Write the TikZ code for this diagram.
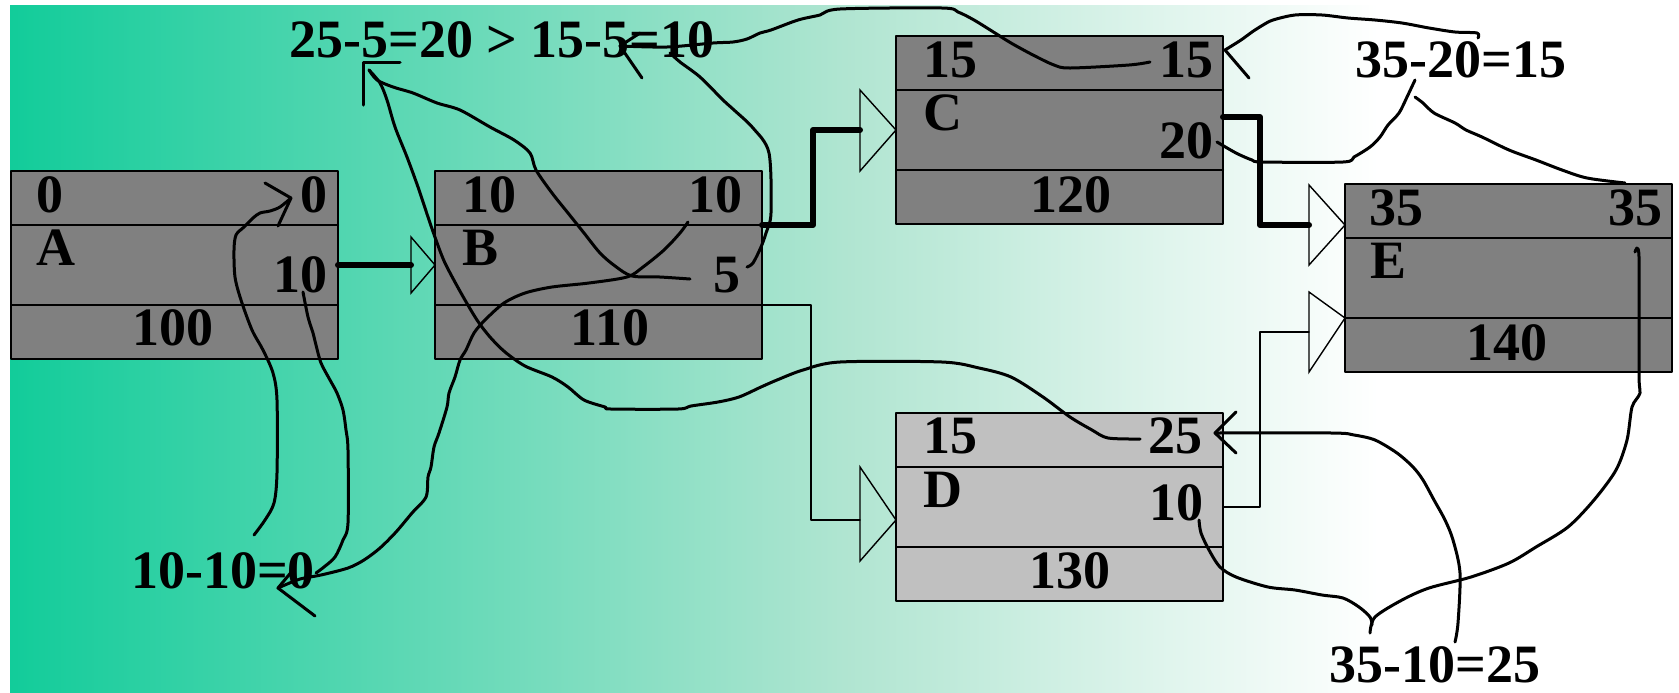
\documentclass[tikz,border=0pt]{standalone}
\usepackage{fontspec}
\setmainfont{Liberation Serif}
\usetikzlibrary{arrows.meta}
\definecolor{bgteal}{RGB}{18,204,154}
\definecolor{bgmint}{RGB}{176,229,209}
\definecolor{boxdark}{RGB}{128,128,128}
\definecolor{boxlight}{RGB}{192,192,192}
\pgfdeclarehorizontalshading{bgfade}{100bp}{color(0bp)=(bgteal); color(25bp)=(bgteal); color(50bp)=(bgmint); color(66bp)=(white); color(100bp)=(white)}

\begin{document}
\begin{tikzpicture}[x=0.5pt, y=-0.5pt, line join=round, line cap=round,
  box/.style={draw=black, line width=1pt, fill=boxdark, minimum width=163.5pt, minimum height=94pt, inner sep=0pt, outer sep=0pt, anchor=north west},
  num/.style={font=\fontsize{27}{30}\selectfont\bfseries, inner sep=0pt},
  crit/.style={line width=3pt},
  thinlink/.style={line width=0.7pt},
  tri/.style={line width=0.7pt, line join=miter},
  hand/.style={line width=1.5pt}]
  % 背景渐变
  \fill[white] (0,0) rectangle (1679,692);
  \shade[shading=bgfade] (10,5) rectangle (1679,692);

  % 工作框
  \node[box] (A) at (11,171) {};
  \node[box] (B) at (435,171) {};
  \node[box] (C) at (896,36) {};
  \node[box, fill=boxlight] (D) at (896,413) {};
  \node[box] (E) at (1345,184) {};
  \foreach \w in {A,B,C,D,E} {
    \draw[line width=1pt] ([yshift=-27pt]\w.north west) -- ([yshift=-27pt]\w.north east);
    \draw[line width=1pt] ([yshift=27pt]\w.south west) -- ([yshift=27pt]\w.south east);
  }

  % 框内数字
  \node[num, anchor=base west] (A-es) at (36,212) {0};
  \node[num, anchor=base east] (A-ls) at (328,212) {0};
  \node[num, anchor=base west] (A-nm) at (36,265) {A};
  \node[num, anchor=base east] (A-du) at (328,292) {10};
  \node[num, anchor=base] (A-id) at (173,345) {100};

  \node[num, anchor=base west] (B-es) at (462,212) {10};
  \node[num, anchor=base east] (B-ls) at (743,212) {10};
  \node[num, anchor=base west] (B-nm) at (462,265) {B};
  \node[num, anchor=base east] (B-du) at (741,292) {5};
  \node[num, anchor=base] (B-id) at (610,345) {110};

  \node[num, anchor=base west] (C-es) at (923,77) {15};
  \node[num, anchor=base east] (C-ls) at (1214,77) {15};
  \node[num, anchor=base west] (C-nm) at (923,130) {C};
  \node[num, anchor=base east] (C-du) at (1214,158) {20};
  \node[num, anchor=base] (C-id) at (1071,212) {120};

  \node[num, anchor=base west] (D-es) at (923,453) {15};
  \node[num, anchor=base east] (D-ls) at (1203,453) {25};
  \node[num, anchor=base west] (D-nm) at (923,507) {D};
  \node[num, anchor=base east] (D-du) at (1204,520) {10};
  \node[num, anchor=base] (D-id) at (1070,588) {130};

  \node[num, anchor=base west] (E-es) at (1369,225) {35};
  \node[num, anchor=base east] (E-ls) at (1663,225) {35};
  \node[num, anchor=base west] (E-nm) at (1370,278) {E};
  \node[num, anchor=base] (E-id) at (1507,360) {140};

  % 计算式
  \node[num, anchor=base] (calcB) at (502,57) {25-5=20 > 15-5=10};
  \node[num, anchor=base] (calcC) at (1461,77) {35-20=15};
  \node[num, anchor=base] (calcA) at (223,588) {10-10=0};
  \node[num, anchor=base] (calcD) at (1435,682) {35-10=25};

  % 关键线路
  \draw[crit] (A.east) -- (411,265);
  \draw[tri] (411,237) -- (B.west) -- (411,293) -- cycle;
  \draw[crit] ([yshift=-27pt]B.north east) -| (813,130) -- (860,130);
  \draw[tri] (860,90) -- (C.west) -- (860,171) -- cycle;
  \draw[crit] ([yshift=6.5pt]C.east) -| (1260,225) -- (1309,225);
  \draw[tri] (1309,185) -- ([yshift=26.5pt]E.west) -- (1309,265) -- cycle;

  % 非关键线路
  \draw[thinlink] ([yshift=27pt]B.south east) -| (811,520) -- (860,520);
  \draw[tri] (860,467) -- ([yshift=-6.5pt]D.west) -- (860,561) -- cycle;
  \draw[thinlink] (D.east) -| (1260,332) -- (1309,332);
  \draw[tri] (1309,292) -- ([yshift=27pt]E.south west) -- (1309,372) -- cycle;

  % 手绘推算线 A
  \draw[hand] plot[smooth] coordinates {(254,535) (265,520) (274,503) (277,473) (277,400) (273,373) (263,350) (252,330) (241,300) (235,277) (234,250) (236,235) (244,227) (253,218) (260,213) (270,211) (280,207) (291,198)};
  \draw[hand] (265,183) -- (291,198) -- (278,226);
  \draw[hand] plot[smooth] coordinates {(303,292) (308,317) (313,333) (316,345) (321,363) (330,380) (337,393) (343,410) (346,430) (348,450) (348,523) (343,540) (335,557) (324,567) (316,573)};
  \draw[hand] plot[smooth] coordinates {(688,222) (680,233) (664,250) (643,267) (627,277) (589,283) (552,287) (525,293) (504,303) (485,320) (474,333) (466,350) (460,360) (455,377) (449,393) (447,407) (439,433) (434,447) (431,467) (428,477) (426,497) (412,513) (396,532) (380,548) (364,560) (348,568) (321,575) (300,579) (278,588)};
  \draw[hand] (293,570) -- (278,588) -- (315,616);

  % 手绘推算线 B
  \draw[hand] (400,62) -- (363,62) -- (363,105);
  \draw[hand] plot[smooth] coordinates {(369,70) (377,80) (393,87) (413,93) (437,103) (460,110) (490,127) (514,140) (530,153) (536,170) (552,193) (568,213) (584,233) (600,253) (615,266) (632,276) (660,277) (690,279)};
  \draw[hand] plot[smooth] coordinates {(369,70) (380,83) (387,100) (395,127) (407,157) (418,187) (428,217) (436,240) (445,263) (461,293) (477,320) (490,337) (505,352) (525,366) (552,377) (568,387) (584,400) (605,407) (611,409) (678,409) (691,406) (718,402) (739,397) (761,387) (777,380) (803,370) (840,362) (942,362) (979,368) (1011,377) (1043,397) (1070,417) (1092,430) (1108,438) (1140,439)};
  \draw[hand] plot[smooth] coordinates {(1150,62) (1129,65) (1070,68) (1054,65) (1033,55) (1011,43) (995,33) (974,20) (958,12) (942,8) (840,9) (820,15) (798,20) (771,30) (760,33) (747,39) (733,42) (713,43) (667,47) (620,46)};
  \draw[hand] (640,33) -- (620,46) -- (642,78);
  \draw[hand] plot[smooth] coordinates {(670,53) (680,62) (700,77) (723,100) (734,110) (753,128) (769,153) (771,213) (766,233) (761,247) (753,263) (747,267)};

  % 手绘推算线 C
  \draw[hand] plot[smooth] coordinates {(1225,50) (1241,40) (1252,32) (1263,25) (1273,20) (1295,15) (1322,15) (1348,18) (1375,20) (1402,23) (1429,28) (1455,32) (1477,33) (1478,38)};
  \draw[hand] (1225,50) -- (1249,78);
  \draw[hand] plot[smooth] coordinates {(1217,142) (1236,153) (1252,160) (1263,162) (1343,162) (1354,157) (1370,147) (1380,137) (1388,125) (1399,113) (1407,97) (1415,80)};
  \draw[hand] plot[smooth] coordinates {(1415,97) (1423,103) (1434,113) (1455,123) (1466,130) (1482,137) (1509,150) (1536,160) (1562,170) (1587,178) (1625,183)};

  % 手绘推算线 D
  \draw[hand] plot[smooth] coordinates {(1635,252) (1639,257) (1639,375) (1640,393) (1632,407) (1627,440) (1616,470) (1594,500) (1568,527) (1536,547) (1509,563) (1471,577) (1429,588) (1402,600) (1375,617) (1370,633)};
  \draw[hand] plot[smooth] coordinates {(1199,520) (1201,533) (1209,550) (1220,567) (1236,577) (1268,587) (1295,590) (1322,595) (1343,598) (1359,607) (1370,617) (1372,625)};
  \draw[hand] plot[smooth] coordinates {(1455,642) (1458,623) (1460,573) (1453,540) (1445,520) (1434,500) (1423,480) (1413,467) (1397,453) (1375,440) (1354,435) (1332,433) (1215,433)};
  \draw[hand] (1236,412) -- (1215,433) -- (1236,453);
\end{tikzpicture}
\end{document}
